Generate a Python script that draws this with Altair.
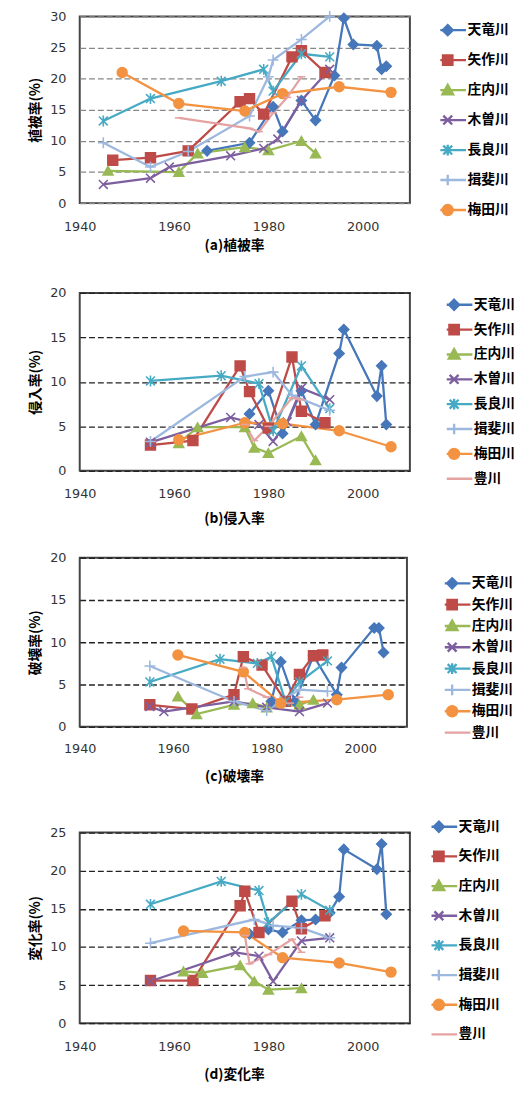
import altair as alt
import pandas as pd

RIVERS = ["天竜川", "矢作川", "庄内川", "木曽川", "長良川", "揖斐川", "梅田川", "豊川"]
COLORS = ["#4677BA", "#BE4B48", "#98B954", "#7D5FA0", "#46AAC4", "#9DB8DE", "#F39240", "#E4A2A2"]
X_TICKS = [1940, 1960, 1980, 2000]

# (a) 植被率
A_YEARS = {
    "天竜川": [1967, 1976, 1981, 1983, 1987, 1990, 1994, 1996, 1998, 2003, 2004, 2005],
    "矢作川": [1947, 1955, 1963, 1974, 1976, 1979, 1985, 1987, 1992],
    "庄内川": [1946, 1961, 1965, 1975, 1980, 1987, 1990],
    "木曽川": [1945, 1955, 1959, 1972, 1979, 1982, 1987, 1993],
    "長良川": [1945, 1955, 1970, 1979, 1981, 1987, 1993],
    "揖斐川": [1945, 1955, 1963, 1976, 1980, 1981, 1987, 1993],
    "梅田川": [1949, 1961, 1975, 1983, 1995, 2006],
    "豊川": [1961, 1976, 1978, 1981, 1984, 1987],
}
A_VALUES = {
    "天竜川": [8.4, 9.7, 15.5, 11.5, 16.5, 13.3, 20.5, 29.7, 25.5, 25.3, 21.5, 22.0],
    "矢作川": [6.9, 7.3, 8.4, 16.3, 16.8, 14.3, 23.5, 24.5, 21.0],
    "庄内川": [5.2, 5.0, 8.0, 9.0, 8.5, 10.0, 8.0],
    "木曽川": [3.0, 4.0, 5.8, 7.6, 8.8, 10.3, 16.5, 21.5],
    "長良川": [13.2, 16.8, 19.6, 21.5, 18.0, 24.0, 23.5],
    "揖斐川": [9.7, 5.8, 8.3, 14.0, 20.3, 23.0, 26.3, 30.0],
    "梅田川": [21.0, 16.0, 14.8, 17.6, 18.7, 17.8],
    "豊川": [13.7, 12.0, 11.5, 14.5, 17.0, 20.3],
}

# (b) 侵入率
B_YEARS = {
    "天竜川": [1976, 1980, 1983, 1987, 1990, 1995, 1996, 2003, 2004, 2005],
    "矢作川": [1955, 1964, 1974, 1976, 1980, 1985, 1987, 1992],
    "庄内川": [1961, 1965, 1975, 1977, 1980, 1987, 1990],
    "木曽川": [1955, 1972, 1978, 1981, 1984, 1987, 1993],
    "長良川": [1955, 1970, 1978, 1981, 1987, 1993],
    "揖斐川": [1955, 1975, 1981, 1985, 1993],
    "梅田川": [1961, 1975, 1983, 1995, 2006],
    "豊川": [1975, 1977, 1980, 1985, 1987],
}
B_VALUES = {
    "天竜川": [6.4, 9.0, 4.2, 9.0, 5.2, 13.2, 15.9, 8.4, 11.8, 5.2],
    "矢作川": [2.9, 3.4, 11.8, 8.9, 4.8, 12.8, 6.7, 5.4],
    "庄内川": [3.1, 4.9, 4.9, 2.6, 2.0, 3.9, 1.2],
    "木曽川": [3.2, 6.0, 5.2, 3.3, 5.5, 9.3, 8.0],
    "長良川": [10.1, 10.7, 9.8, 4.5, 11.8, 7.0],
    "揖斐川": [3.3, 10.6, 11.1, 8.5, 6.8],
    "梅田川": [3.5, 5.4, 5.3, 4.5, 2.7],
    "豊川": [5.2, 3.4, 5.0, 8.2, 8.0],
}

# (c) 破壊率
C_YEARS = {
    "天竜川": [1981, 1983, 1986, 1990, 1995, 1996, 2003, 2004, 2005],
    "矢作川": [1955, 1964, 1973, 1975, 1979, 1984, 1987, 1990, 1992],
    "庄内川": [1961, 1965, 1973, 1977, 1980, 1987, 1990],
    "木曽川": [1955, 1958, 1973, 1980, 1987, 1993],
    "長良川": [1955, 1970, 1978, 1981, 1984, 1987, 1993],
    "揖斐川": [1955, 1973, 1980, 1983, 1987, 1993],
    "梅田川": [1961, 1975, 1983, 1995, 2006],
    "豊川": [1975, 1976, 1980, 1985, 1987],
}
C_VALUES = {
    "天竜川": [3.0, 7.7, 3.0, 8.4, 3.8, 7.0, 11.7, 11.7, 8.8],
    "矢作川": [2.6, 2.1, 3.8, 8.3, 7.3, 3.0, 6.2, 8.4, 8.5],
    "庄内川": [3.6, 1.5, 2.6, 2.8, 2.3, 2.6, 3.2],
    "木曽川": [2.4, 1.8, 3.0, 2.3, 1.8, 2.8],
    "長良川": [5.3, 8.0, 7.5, 8.3, 3.0, 5.3, 7.8],
    "揖斐川": [7.2, 3.0, 1.9, 3.0, 4.4, 4.2],
    "梅田川": [8.5, 6.5, 2.8, 3.2, 3.8],
    "豊川": [7.0, 4.5, 3.5, 2.8, 3.5],
}

# (d) 変化率
D_YEARS = {
    "天竜川": [1976, 1980, 1983, 1987, 1990, 1993, 1995, 1996, 2003, 2004, 2005],
    "矢作川": [1955, 1964, 1974, 1975, 1978, 1985, 1987, 1992],
    "庄内川": [1962, 1966, 1974, 1977, 1980, 1987],
    "木曽川": [1955, 1973, 1978, 1981, 1987, 1993],
    "長良川": [1955, 1970, 1978, 1980, 1987, 1993],
    "揖斐川": [1955, 1977, 1981, 1987, 1993],
    "梅田川": [1962, 1975, 1983, 1995, 2006],
    "豊川": [1975, 1976, 1980, 1985, 1987],
}
D_VALUES = {
    "天竜川": [11.7, 12.3, 11.9, 13.5, 13.6, 14.5, 16.6, 22.8, 20.2, 23.5, 14.3],
    "矢作川": [5.6, 5.6, 15.4, 17.3, 11.9, 16.0, 12.4, 14.1],
    "庄内川": [6.8, 6.6, 7.6, 5.5, 4.4, 4.6],
    "木曽川": [5.5, 9.3, 8.8, 5.5, 10.8, 11.2],
    "長良川": [15.6, 18.6, 17.4, 13.2, 16.9, 14.8],
    "揖斐川": [10.5, 13.6, 12.8, 12.5, 11.2],
    "梅田川": [12.1, 11.9, 8.6, 7.9, 6.7],
    "豊川": [11.5, 7.8, 9.0, 11.0, 9.3],
}

FONT_JP = "Noto Sans CJK JP"
FONT_NUM = "DejaVu Sans"

POINT_SHAPES = [
    "diamond",
    "square",
    "triangle-up",
    "M-0.9,-0.9L0.9,0.9M-0.9,0.9L0.9,-0.9",
    "M-0.9,-0.9L0.9,0.9M-0.9,0.9L0.9,-0.9M0,-1.1L0,1.1",
    "M-1.1,0L1.1,0M0,-1.1L0,1.1",
    "circle",
    "M-0.8,0L0.8,0",
]
LINE = "M-3.1,0L3.1,0"
LEGEND_SHAPES = [
    LINE + "M0,-0.85L0.85,0L0,0.85L-0.85,0Z",
    LINE + "M-0.8,-0.8L0.8,-0.8L0.8,0.8L-0.8,0.8Z",
    LINE + "M0,-0.9L0.9,0.7L-0.9,0.7Z",
    LINE + "M-0.75,-0.75L0.75,0.75M-0.75,0.75L0.75,-0.75",
    LINE + "M-0.75,-0.75L0.75,0.75M-0.75,0.75L0.75,-0.75M0,-0.9L0,0.9",
    LINE + "M0,-0.9L0,0.9",
    LINE + "M0.85,0A0.85,0.85 0 1,1 -0.85,0A0.85,0.85 0 1,1 0.85,0Z",
    LINE,
]


def to_frame(years, values):
    rows = []
    for r in RIVERS:
        for i, (x, v) in enumerate(zip(years[r], values[r])):
            rows.append({"river": r, "year": x, "value": v, "idx": i})
    return pd.DataFrame(rows)


def panel(years, values, ymax, ytitle, caption, width, height, legend_names,
          legend_x, legend_y, row_pad, grid_color, label_pad, title_pad):
    df = to_frame(years, values)
    x = alt.X(
        "year:Q",
        scale=alt.Scale(domain=[1940, 2010], nice=False, zero=False),
        axis=alt.Axis(values=X_TICKS, format="d", grid=False, ticks=False, domain=False,
                      labelFlush=False, labelFont=FONT_NUM, labelFontSize=13,
                      labelColor="#333333", labelPadding=label_pad, title=caption,
                      titleFont=FONT_JP, titleFontSize=14, titleFontWeight="bold",
                      titleColor="black", titlePadding=title_pad, titleX=157,
                      titleAlign="center"),
    )
    y = alt.Y(
        "value:Q",
        scale=alt.Scale(domain=[0, ymax], nice=False),
        axis=alt.Axis(values=list(range(0, ymax + 1, 5)), grid=True, gridColor=grid_color,
                      gridDash=[6, 3], gridWidth=1.3, ticks=False, domain=False,
                      labelFlush=False, labelFont=FONT_NUM, labelFontSize=13,
                      labelColor="#333333", labelPadding=14, title=ytitle,
                      titleFont=FONT_JP, titleFontSize=14, titleFontWeight="bold",
                      titleColor="black", titleX=-45, titleBaseline="middle"),
    )
    cscale = alt.Scale(domain=RIVERS, range=COLORS)
    lines = alt.Chart(df).mark_line(strokeWidth=2.3).encode(
        x=x, y=y,
        color=alt.Color("river:N", scale=cscale, legend=None),
        order=alt.Order("idx:Q"),
    )
    points = alt.Chart(df).mark_point(filled=True, size=100, strokeWidth=1.6, opacity=1).encode(
        x=x, y=y,
        color=alt.Color("river:N", scale=cscale, legend=None),
        stroke=alt.Stroke("river:N", scale=cscale, legend=None),
        shape=alt.Shape("river:N", scale=alt.Scale(domain=RIVERS, range=POINT_SHAPES), legend=None),
    )
    idx = [RIVERS.index(n) for n in legend_names]
    leg_c = alt.Scale(domain=legend_names, range=[COLORS[i] for i in idx])
    leg_s = alt.Scale(domain=legend_names, range=[LEGEND_SHAPES[i] for i in idx])
    lg = alt.Legend(title=None, orient="none", legendX=legend_x, legendY=legend_y,
                    symbolSize=144, symbolStrokeWidth=2.4, symbolOpacity=1,
                    clipHeight=16,
                    labelFont=FONT_JP, labelFontSize=14, labelFontWeight="bold",
                    labelColor="black", labelOffset=12.5, rowPadding=row_pad)
    key = alt.Chart(df).transform_filter("false").mark_point(
        filled=True, opacity=1, strokeWidth=2.4).encode(
        x=x, y=y,
        color=alt.Color("river:N", scale=leg_c, legend=lg),
        stroke=alt.Stroke("river:N", scale=leg_c, legend=lg),
        shape=alt.Shape("river:N", scale=leg_s, legend=lg),
    )
    return alt.layer(lines, points, key).resolve_scale(
        color="independent", stroke="independent", shape="independent"
    ).properties(width=width, height=height)


pa = panel(A_YEARS, A_VALUES, 30, "植被率(%)", "(a)植被率", 336, 190, RIVERS[:7],
           367, 6, 14.5, "#888888", 18, 5)
pb = panel(B_YEARS, B_VALUES, 20, "侵入率(%)", "(b)侵入率", 336, 181, RIVERS,
           373.5, 4, 9.3, "#222222", 17.5, 11.5)
pc = panel(C_YEARS, C_VALUES, 20, "破壊率(%)", "(c)破壊率", 333, 172, RIVERS,
           371.5, 18, 5.7, "#222222", 16, 15)
pd_ = panel(D_YEARS, D_VALUES, 25, "変化率(%)", "(d)変化率", 336, 194, RIVERS,
            358, -14, 14.2, "#222222", 17.5, 14.5)

RES = dict(x="independent", y="independent", color="independent",
           stroke="independent", shape="independent")

top = alt.vconcat(pa, pb, spacing=33.4).resolve_scale(**RES)
bottom = alt.vconcat(pc, pd_, spacing=33.7).resolve_scale(**RES)
chart = alt.vconcat(top, bottom, spacing=23.9).resolve_scale(**RES).properties(
    padding={"left": 20, "top": -11, "right": 0, "bottom": 0}
).configure_view(stroke="#444444", strokeWidth=2)

chart.save("out.html", embed_options={"renderer": "svg", "actions": False})
